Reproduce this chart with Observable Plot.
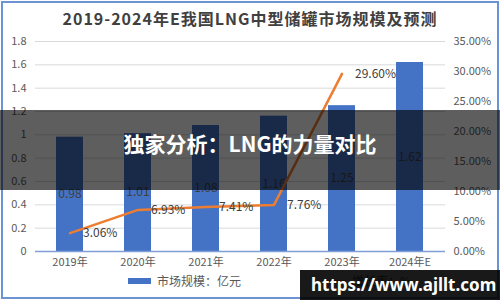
<!DOCTYPE html>
<html><head><meta charset="utf-8">
<script src="https://cdn.jsdelivr.net/npm/d3@7"></script>
<script src="https://cdn.jsdelivr.net/npm/@observablehq/plot@0.6"></script>
<style>
body{margin:0;background:#fff;font-family:"Noto Sans CJK SC","Noto Sans",sans-serif;}
#wrap{position:relative;width:500px;height:300px;overflow:hidden;background:#fff;}
#title{height:32px;line-height:36px;text-align:center;font-weight:bold;font-size:16px;color:#404040;letter-spacing:1px;white-space:nowrap;}
#chart svg{display:block;}
.lg{position:absolute;font-size:12px;color:#595959;line-height:16px;white-space:nowrap;}
#border{position:absolute;left:1px;top:1px;width:494px;height:294px;border:2px solid #6C93D4;pointer-events:none;}
#band{position:absolute;left:0;top:110px;width:500px;height:80px;background:rgba(0,0,0,0.63);}
#bandText{position:absolute;left:0;top:127px;width:500px;height:32px;line-height:32px;text-align:center;color:#fff;font-weight:bold;font-size:21px;white-space:nowrap;}
#wm{position:absolute;left:300px;top:270px;width:200px;height:30px;background:rgba(0,0,0,0.9);color:#fff;font-weight:bold;font-size:17px;line-height:30px;padding-left:11px;box-sizing:border-box;white-space:nowrap;font-family:"Noto Sans",sans-serif;}
</style>
</head><body>
<div id="wrap">
  <div id="title">2019-2024年E我国LNG中型储罐市场规模及预测</div>
  <div id="chart"></div>
  <div style="position:absolute;left:128px;top:278px;width:23px;height:6px;background:#4472C4;"></div>
  <div class="lg" style="left:157px;top:273px;">市场规模：亿元</div>
  <div style="position:absolute;left:322px;top:280px;width:24px;height:3px;background:#ED7D31;"></div>
  <div class="lg" style="left:352px;top:273px;">增长率：%</div>
  <div id="border"></div>
  <div id="band"></div>
  <div id="bandText">独家分析：LNG的力量对比</div>
  <div id="wm">https://www.ajllt.com</div>
</div>
<script>
const years = ["2019年","2020年","2021年","2022年","2023年","2024年E"];
const marketSize = [0.98, 1.01, 1.08, 1.16, 1.25, 1.62];
const growthYears = ["2019年","2020年","2021年","2022年","2023年"];
const growthRates = [0.0306, 0.0693, 0.0741, 0.0776, 0.2960];
const growthLabels = ["3.06%","6.93%","7.41%","7.76%","29.60%"];
const leftTicks = [0, 0.2, 0.4, 0.6, 0.8, 1.0, 1.2, 1.4, 1.6, 1.8];
const rightTicks = [0, 0.05, 0.10, 0.15, 0.20, 0.25, 0.30, 0.35];

const leftMax = 1.8, rightMax = 0.35;
const k = leftMax / rightMax;

const bars = years.map((y, i) => ({year: y, size: marketSize[i]}));
const growth = growthYears.map((y, i) => ({year: y, rate: growthRates[i], label: growthLabels[i]}));

const chart = Plot.plot({
  width: 500,
  height: 238,
  marginTop: 9,
  marginBottom: 19,
  marginLeft: 35,
  marginRight: 55,
  style: {fontFamily: '"Noto Sans CJK SC","Noto Sans",sans-serif', fontSize: "11px", color: "#595959", background: "transparent"},
  x: {domain: years, paddingInner: 0.6, paddingOuter: 0.3, label: null},
  y: {domain: [0, leftMax], label: null},
  marks: [
    Plot.gridY(leftTicks, {stroke: "#D9D9D9", strokeOpacity: 1}),
    Plot.axisY(leftTicks, {tickSize: 0, tickPadding: 9, label: null, tickFormat: d => String(+d.toFixed(1))}),
    Plot.axisY(rightTicks.map(t => t * k), {anchor: "right", tickSize: 0, tickPadding: 8, label: null,
      tickFormat: d => ((d / k) * 100).toFixed(2) + "%"}),
    Plot.barY(bars, {x: "year", y: "size", fill: "#4472C4"}),
    Plot.ruleY([0], {stroke: "#7F9FD8", strokeWidth: 1.5}),
    Plot.axisX({tickSize: 0, tickPadding: 7, label: null}),
    Plot.text(bars, {x: "year", y: d => d.size / 2, text: d => d.size.toFixed(2), fill: "#404040", fontSize: 12}),
    Plot.line(growth, {x: "year", y: d => d.rate * k, stroke: "#ED7D31", strokeWidth: 2.5}),
    Plot.text(growth, {x: "year", y: d => d.rate * k, text: "label", textAnchor: "start", dx: 13, fill: "#404040", fontSize: 12})
  ]
});
document.getElementById("chart").appendChild(chart);
</script>
</body></html>
